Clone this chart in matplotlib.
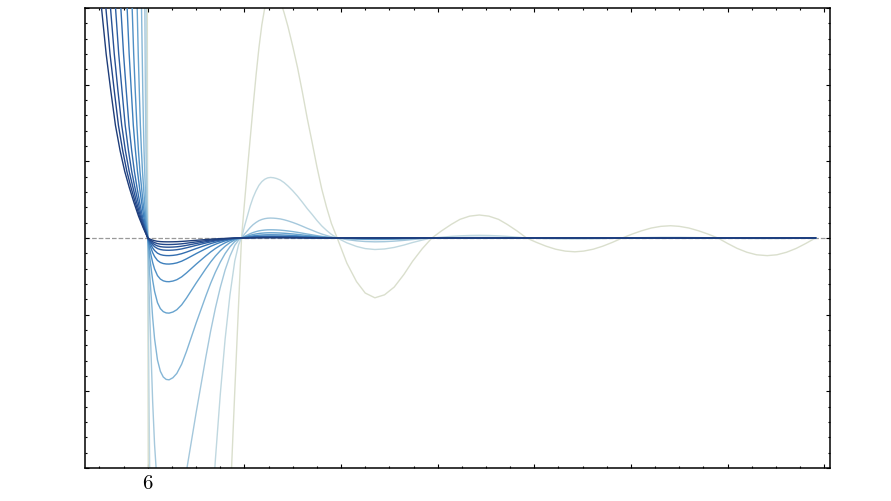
import matplotlib
matplotlib.use("Agg")
import matplotlib.pyplot as plt
from matplotlib.ticker import MultipleLocator, FixedLocator, FixedFormatter

plt.rcParams['mathtext.fontset'] = 'cm'
plt.rcParams['font.family'] = ['DejaVu Serif']

# ---------------- data ----------------
# colours from darkest (curve 0) to lightest (curve 11)
curve_colors = ['#1e3d7a', '#224689', '#275195', '#2c5ea2', '#336daf', '#3d7fbc',
                '#4f8fc5', '#67a3ce', '#85b6d6', '#a5c8dc', '#c0d8e0', '#dadfcd']

# left branch (x <= 6): common levels, and where each curve reaches them
y_left = [3.66, 3.0, 2.4, 1.92, 1.47, 1.14, 0.87, 0.66, 0.465, 0.285, 0.135, 0.0]
x_left = [
    [5.473, 5.521, 5.569, 5.617, 5.665, 5.713, 5.761, 5.808, 5.856, 5.904, 5.952, 6.0],
    [5.523, 5.566, 5.609, 5.653, 5.696, 5.740, 5.783, 5.826, 5.870, 5.913, 5.957, 6.0],
    [5.575, 5.614, 5.653, 5.691, 5.730, 5.768, 5.807, 5.846, 5.884, 5.923, 5.961, 6.0],
    [5.633, 5.666, 5.699, 5.733, 5.766, 5.800, 5.833, 5.866, 5.900, 5.933, 5.967, 6.0],
    [5.693, 5.721, 5.749, 5.777, 5.805, 5.833, 5.861, 5.888, 5.916, 5.944, 5.972, 6.0],
    [5.765, 5.786, 5.807, 5.829, 5.850, 5.872, 5.893, 5.914, 5.936, 5.957, 5.979, 6.0],
    [5.822, 5.838, 5.854, 5.870, 5.887, 5.903, 5.919, 5.935, 5.951, 5.968, 5.984, 6.0],
    [5.879, 5.890, 5.901, 5.912, 5.923, 5.934, 5.945, 5.956, 5.967, 5.978, 5.989, 6.0],
    [5.929, 5.935, 5.942, 5.948, 5.955, 5.961, 5.968, 5.974, 5.981, 5.987, 5.994, 6.0],
    [5.966, 5.969, 5.972, 5.975, 5.978, 5.981, 5.985, 5.988, 5.991, 5.994, 5.997, 6.0],
    [5.982, 5.984, 5.986, 5.987, 5.989, 5.990, 5.992, 5.994, 5.995, 5.997, 5.998, 6.0],
    [5.9945, 5.995, 5.9955, 5.996, 5.9965, 5.997, 5.9975, 5.998, 5.9985, 5.999, 5.9995, 6.0],
]

# first dip, between 6 and ~6.97
x_dip = [6.01, 6.02, 6.035, 6.05, 6.07, 6.1, 6.13, 6.16, 6.19, 6.22, 6.26, 6.3, 6.35,
         6.4, 6.45, 6.5, 6.55, 6.6, 6.65, 6.7, 6.75, 6.8, 6.85, 6.9, 6.94, 6.97]
y_dip = [
    [-.007, -.013, -.0205, -.028, -.0355, -.043, -.047, -.049, -.0499, -.05, -.0493, -.0478, -.0445,
     -.04, -.035, -.03, -.0253, -.0205, -.016, -.012, -.0085, -.0055, -.0031, -.0013, -.0004, 0],
    [-.0119, -.0221, -.0349, -.0476, -.0604, -.0731, -.0799, -.0833, -.0847, -.085, -.0837, -.0812, -.0757,
     -.068, -.0595, -.051, -.0429, -.0349, -.0272, -.0204, -.0145, -.0094, -.0053, -.0021, -.0006, 0],
    [-.0168, -.0312, -.0492, -.0672, -.0852, -.1032, -.1128, -.1176, -.1196, -.12, -.1182, -.1146, -.1068,
     -.096, -.084, -.072, -.0606, -.0492, -.0384, -.0288, -.0204, -.0132, -.0074, -.003, -.0008, 0],
    [-.0224, -.0416, -.0656, -.0896, -.1136, -.1376, -.1504, -.1568, -.1595, -.16, -.1576, -.1528, -.1424,
     -.128, -.112, -.096, -.0808, -.0656, -.0512, -.0384, -.0272, -.0176, -.0099, -.004, -.0011, 0],
    [-.0322, -.0598, -.0943, -.1288, -.1633, -.1978, -.2162, -.2254, -.2293, -.23, -.2266, -.2197, -.2047,
     -.184, -.161, -.138, -.1162, -.0943, -.0736, -.0552, -.0391, -.0253, -.0143, -.0058, -.0016, 0],
    [-.0476, -.0884, -.1394, -.1904, -.2414, -.2924, -.3196, -.3332, -.339, -.34, -.3349, -.3247, -.3026,
     -.272, -.238, -.204, -.1717, -.1394, -.1088, -.0816, -.0578, -.0374, -.0211, -.0085, -.0024, 0],
    [-.0798, -.1482, -.2337, -.3192, -.4047, -.4902, -.5358, -.5586, -.5683, -.57, -.5615, -.5444, -.5073,
     -.456, -.399, -.342, -.2879, -.2337, -.1824, -.1368, -.0969, -.0627, -.0353, -.0143, -.004, 0],
    [-.1372, -.2548, -.4018, -.5488, -.6958, -.8428, -.9212, -.9604, -.9771, -.98, -.9653, -.9359, -.8722,
     -.784, -.686, -.588, -.4949, -.4018, -.3136, -.2352, -.1666, -.1078, -.0608, -.0245, -.0069, 0],
    [-.259, -.481, -.7585, -1.036, -1.3135, -1.591, -1.739, -1.813, -1.8445, -1.85, -1.8223, -1.7668, -1.6465,
     -1.48, -1.295, -1.11, -.9343, -.7585, -.592, -.444, -.3145, -.2035, -.1147, -.0463, -.013, 0],
    [-.532, -.988, -1.558, -2.128, -2.698, -3.268, -3.572, -3.724, -3.789, -3.8, -3.743, -3.629, -3.382,
     -3.04, -2.66, -2.28, -1.919, -1.558, -1.216, -.912, -.646, -.418, -.236, -.095, -.027, 0],
    [-1.68, -3.12, -4.92, -6.72, -8.52, -10.32, -11.28, -11.76, -11.96, -12.0, -11.82, -11.46, -10.68,
     -9.6, -8.4, -7.2, -6.06, -4.92, -3.84, -2.88, -2.04, -1.32, -.744, -.3, -.084, 0],
    [-6.5, -13.0, -20.0, -28.0, -35.0, -42.0, -46.0, -48.0, -49.5, -50.0, -49.5, -48.0, -44.0,
     -40.0, -35.0, -30.0, -25.0, -20.0, -15.5, -11.0, -8.0, -5.5, -3.5, -2.0, -.85, 0],
]

# first bump, between ~6.97 and ~7.96
x_bump = [7.0, 7.03, 7.06, 7.09, 7.12, 7.15, 7.18, 7.21, 7.24, 7.27, 7.30, 7.33, 7.37,
          7.41, 7.45, 7.50, 7.55, 7.60, 7.65, 7.70, 7.75, 7.80, 7.85, 7.90, 7.96]
y_bump = [
    [.0008, .0014, .0021, .0027, .0031, .0035, .0037, .0039, .004, .004, .004, .0039, .0038,
     .0037, .0034, .0031, .0028, .0024, .0019, .0016, .0012, .0008, .0005, .0002, 0],
    [.0011, .0022, .0032, .004, .0047, .0052, .0056, .0058, .006, .006, .006, .0059, .0057,
     .0055, .0052, .0047, .0041, .0035, .0029, .0023, .0017, .0012, .0008, .0004, 0],
    [.0015, .0029, .0042, .0054, .0062, .007, .0074, .0078, .0079, .008, .008, .0079, .0077,
     .0073, .0069, .0062, .0055, .0047, .0039, .0031, .0023, .0016, .001, .0005, 0],
    [.0021, .004, .0058, .0074, .0086, .0096, .0102, .0107, .0109, .011, .0109, .0108, .0105,
     .0101, .0095, .0086, .0076, .0065, .0053, .0043, .0032, .0022, .0014, .0007, 0],
    [.003, .0058, .0085, .0107, .0125, .0139, .0149, .0155, .0159, .016, .0159, .0157, .0153,
     .0146, .0138, .0125, .011, .0094, .0078, .0062, .0046, .0032, .002, .001, 0],
    [.0048, .009, .0133, .0168, .0195, .0218, .0233, .0243, .0248, .025, .0249, .0246, .024,
     .0229, .0215, .0195, .0173, .0148, .0121, .0098, .0073, .005, .0031, .0015, 0],
    [.008, .0151, .0223, .0281, .0328, .0365, .0391, .0407, .0417, .042, .0418, .0413, .0402,
     .0384, .0361, .0328, .029, .0248, .0204, .0164, .0122, .0084, .0053, .0025, 0],
    [.0129, .0245, .036, .0456, .053, .0592, .0632, .066, .0675, .068, .0677, .0668, .0651,
     .0622, .0585, .053, .0469, .0401, .033, .0265, .0197, .0136, .0085, .0041, 0],
    [.0203, .0385, .0567, .0717, .0835, .0931, .0995, .1038, .1063, .107, .1065, .1052, .1025,
     .0979, .092, .0835, .0738, .0631, .0519, .0417, .031, .0214, .0134, .0064, 0],
    [.0494, .0936, .1378, .1742, .2028, .2262, .2418, .2522, .2582, .26, .2587, .2556, .2491,
     .2379, .2236, .2028, .1794, .1534, .1261, .1014, .0754, .052, .0325, .0156, 0],
    [.150, .284, .419, .529, .616, .687, .735, .766, .784, .79, .786, .777, .757,
     .723, .679, .616, .545, .466, .383, .308, .229, .158, .099, .047, 0],
    [.45, .88, 1.3, 1.72, 2.12, 2.48, 2.78, 3.0, 3.15, 3.24, 3.26, 3.22, 3.1,
     2.94, 2.76, 2.5, 2.22, 1.9, 1.56, 1.25, .93, .64, .40, .19, 0],
]

# tail, from ~7.96 to the end of the curves
x_tail = [8.06, 8.16, 8.25, 8.35, 8.45, 8.55, 8.65, 8.74, 8.84, 8.94,
          9.04, 9.14, 9.23, 9.33, 9.43, 9.53, 9.63, 9.72, 9.82, 9.92,
          10.02, 10.12, 10.22, 10.32, 10.42, 10.51, 10.61, 10.71, 10.81, 10.91,
          11.01, 11.11, 11.21, 11.31, 11.41, 11.5, 11.6, 11.7, 11.8, 11.9,
          12.0, 12.1, 12.2, 12.3, 12.41, 12.51, 12.61, 12.71, 12.81, 12.91]
y_tail = [
    [0.0] * 50,
    [0.0] * 50,
    [0.0] * 50,
    [0.0] * 50,
    [0.0] * 50,
    [-.002, -.004, -.005, -.005, -.005, -.004, -.003, -.002, -.001, 0] + [0.0] * 40,
    [-.003, -.006, -.007, -.008, -.008, -.007, -.005, -.003, -.001, 0] + [0.0] * 40,
    [-.005, -.009, -.012, -.013, -.012, -.011, -.008, -.005, -.002, 0] + [0.0] * 40,
    [-.008, -.015, -.018, -.02, -.019, -.016, -.012, -.008, -.004, 0] + [0.0] * 40,
    [-.021, -.037, -.046, -.05, -.048, -.041, -.031, -.020, -.009, 0,
     .002, .005, .006, .008, .008, .008, .006, .005, .002, 0] + [0.0] * 30,
    [-.063, -.110, -.138, -.15, -.143, -.123, -.092, -.059, -.027, 0,
     .011, .021, .028, .033, .035, .033, .028, .021, .011, 0,
     -.004, -.008, -.011, -.012, -.013, -.012, -.011, -.008, -.004, 0,
     .003, .005, .007, .009, .009, .009, .007, .005, .003, 0,
     -.002, -.004, -.006, -.007, -.007, -.007, -.006, -.004, -.002, 0],
    [-.328, -.569, -.718, -.78, -.741, -.640, -.476, -.304, -.140, 0,
     .093, .177, .243, .285, .30, .285, .243, .177, .093, 0,
     -.056, -.106, -.146, -.171, -.18, -.171, -.146, -.106, -.056, 0,
     .050, .094, .130, .152, .16, .152, .130, .094, .050, 0,
     -.071, -.136, -.186, -.219, -.23, -.219, -.186, -.136, -.071, 0],
]

x_ticks = [6, 7, 8, 9, 10, 11, 12, 13]
x_tick_labels = ['$6$', '', '', '', '', '', '', '']

# ---------------- figure ----------------
fig = plt.figure(figsize=(8.91, 5.01), dpi=100)
ax = fig.add_axes([85 / 891, 33 / 501, 745 / 891, 460 / 501])

ax.axhline(0, color='#999999', lw=0.9, ls='--', zorder=1)

n = len(curve_colors)
for i in reversed(range(n)):
    xs = x_left[i] + x_dip + x_bump + x_tail
    ys = y_left + y_dip[i] + y_bump[i] + y_tail[i]
    ax.plot(xs, ys, color=curve_colors[i], lw=1.0, zorder=2 + (n - i) * 0.1)

ax.set_xlim(5.35, 13.06)
ax.set_ylim(-3, 3)

ax.xaxis.set_major_locator(FixedLocator(x_ticks))
ax.xaxis.set_major_formatter(FixedFormatter(x_tick_labels))
ax.xaxis.set_minor_locator(MultipleLocator(0.25))
ax.yaxis.set_major_locator(MultipleLocator(1.0))
ax.yaxis.set_minor_locator(MultipleLocator(0.2))
ax.set_yticklabels([])

ax.tick_params(which='both', direction='in', top=True, right=True, width=0.8)
ax.tick_params(which='major', length=3.2, labelsize=15, pad=4)
ax.tick_params(which='minor', length=1.6)
for sp in ax.spines.values():
    sp.set_linewidth(1.1)

fig.savefig('out.png', dpi=100)
